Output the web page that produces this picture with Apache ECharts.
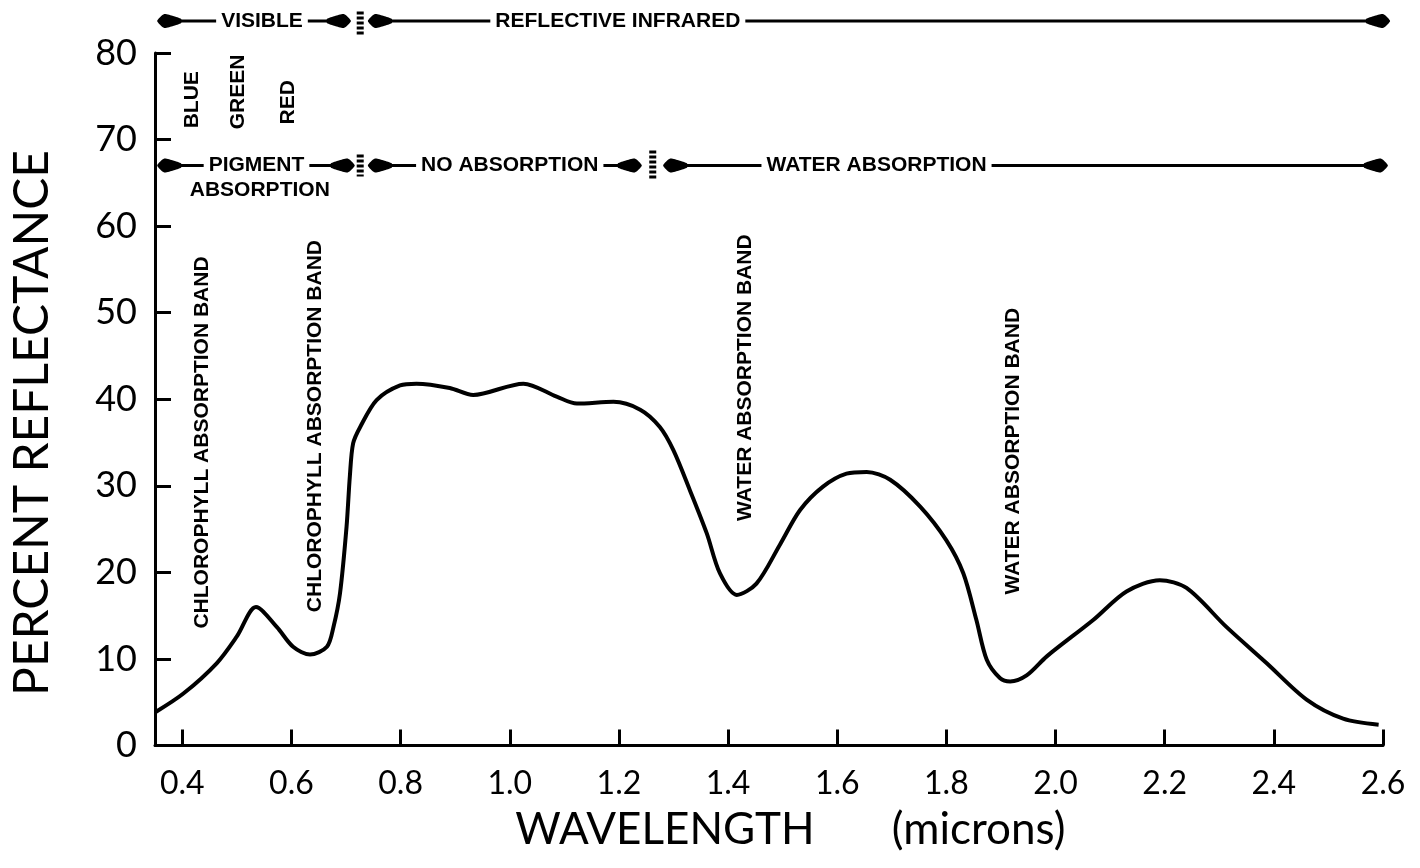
<!DOCTYPE html>
<html><head><meta charset="utf-8">
<script src="https://cdn.jsdelivr.net/npm/echarts@6/dist/echarts.min.js"></script>
<style>html,body{margin:0;padding:0;background:#fff}#c{width:1420px;height:868px}</style>
</head><body><div id="c"></div>
<script>
// Wavelength (microns) and percent reflectance
const wavelength = [0.352,0.402,0.463,0.500,0.535,0.573,0.603,0.634,0.665,0.677,0.689,0.701,0.707,0.713,0.726,0.756,0.799,0.829,0.890,0.933,1.025,1.086,1.123,1.190,1.239,1.275,1.300,1.330,1.361,1.385,1.416,1.452,1.495,1.532,1.574,1.617,1.654,1.697,1.752,1.800,1.831,1.855,1.874,1.898,1.917,1.947,1.984,2.069,2.130,2.191,2.240,2.313,2.387,2.460,2.527,2.592];
const reflectance = [3.9,6.0,9.5,12.6,16.0,13.7,11.4,10.5,11.4,13.7,17.6,25.3,31.1,34.9,36.8,39.9,41.6,41.8,41.3,40.5,41.8,40.3,39.5,39.7,38.8,36.8,34.1,29.5,24.5,19.9,17.4,18.7,23.2,27.2,29.9,31.4,31.6,30.7,27.6,23.7,19.9,14.5,9.9,7.8,7.4,8.1,10.3,14.5,17.8,19.1,18.2,13.7,9.5,5.3,3.1,2.4];
const xTicks = [0.4,0.6,0.8,1.0,1.2,1.4,1.6,1.8,2.0,2.2,2.4,2.6];
const yTicks = [0,10,20,30,40,50,60,70,80];

// Region arrows: [start λ, end λ, label, label centre λ, row reflectance]
const regionArrows = [
  [0.354, 0.709, 'VISIBLE', 0.546, 83.7],
  [0.740, 2.613, 'REFLECTIVE INFRARED', 1.198, 83.7],
  [0.354, 0.716, 'PIGMENT', 0.536, 67.0],
  [0.740, 1.242, 'NO ABSORPTION', 1.000, 67.0],
  [1.281, 2.609, 'WATER ABSORPTION', 1.672, 67.0]
];
const extraLabels = [['ABSORPTION', 0.542, 64.1]];
// Separators: [λ, row reflectance, half height px]
const separators = [[0.726, 83.4, 12], [0.726, 67.0, 11], [1.262, 67.0, 15]];
// Vertical labels: [text, λ centre, reflectance centre]
const verticalLabels = [
  ['BLUE', 0.418, 74.6],
  ['GREEN', 0.503, 75.5],
  ['RED', 0.594, 74.3],
  ['CHLOROPHYLL ABSORPTION BAND', 0.437, 35.0],
  ['CHLOROPHYLL ABSORPTION BAND', 0.644, 36.9],
  ['WATER ABSORPTION BAND', 1.432, 42.5],
  ['WATER ABSORPTION BAND', 1.923, 34.0]
];

const chart = echarts.init(document.getElementById('c'));
const titleFont = 'Lato, "Open Sans", sans-serif';
const annoFont = '"Liberation Sans", Arial, sans-serif';

chart.setOption({
  animation: false,
  backgroundColor: '#fff',
  grid: { left: 155, right: 37, top: 53, bottom: 122.5, containLabel: false },
  xAxis: {
    type: 'value', min: 0.35, max: 2.6,
    axisLine: { show: true, lineStyle: { color: '#000', width: 3 } },
    axisTick: { show: true, inside: true, length: 16, lineStyle: { color: '#000', width: 3 }, customValues: xTicks },
    axisLabel: { customValues: xTicks, formatter: v => v.toFixed(1), fontSize: 32, fontFamily: titleFont, color: '#000', margin: 22 },
    splitLine: { show: false }
  },
  yAxis: {
    type: 'value', min: 0, max: 80, interval: 10,
    axisLine: { show: true, lineStyle: { color: '#000', width: 3 } },
    axisTick: { show: true, inside: true, length: 16, lineStyle: { color: '#000', width: 3 } },
    axisLabel: { fontSize: 36, fontFamily: titleFont, color: '#000', margin: 18 },
    splitLine: { show: false }
  },
  series: [{
    type: 'line',
    data: wavelength.map((w, i) => [w, reflectance[i]]),
    smooth: 0.3,
    showSymbol: false,
    lineStyle: { color: '#000', width: 4 },
    clip: false
  }]
});

const px = (l, r) => chart.convertToPixel({ gridIndex: 0 }, [l, r]);
const g = [];
function arrowHead(x, y, d) {
  return { type: 'polygon', z: 10, shape: { points: [
    [x, y], [x - d * 7, y - 7], [x - d * 16, y - 5], [x - d * 24, y - 2], [x - d * 24, y + 2], [x - d * 16, y + 5], [x - d * 7, y + 7]
  ], smooth: 0.2 }, style: { fill: '#000' } };
}
regionArrows.forEach(([a, b, label, c, r]) => {
  const pa = px(a, r), pb = px(b, r), pc = px(c, r);
  g.push({ type: 'line', z: 9, shape: { x1: pa[0] + 10, y1: pa[1], x2: pb[0] - 10, y2: pb[1] }, style: { stroke: '#000', lineWidth: 3 } });
  g.push(arrowHead(pa[0], pa[1], -1));
  g.push(arrowHead(pb[0], pb[1], 1));
  g.push({ type: 'text', z: 11, x: pc[0], y: pc[1], style: { text: label, fill: '#000', font: 'bold 21px ' + annoFont, align: 'center', verticalAlign: 'middle', backgroundColor: '#fff', padding: [2, 5] } });
});
extraLabels.forEach(([t, l, r]) => {
  const p = px(l, r);
  g.push({ type: 'text', z: 11, x: p[0], y: p[1], style: { text: t, fill: '#000', font: 'bold 21px ' + annoFont, align: 'center', verticalAlign: 'middle' } });
});
separators.forEach(([l, r, h]) => {
  const p = px(l, r);
  g.push({ type: 'line', z: 10, shape: { x1: p[0], y1: p[1] - h, x2: p[0], y2: p[1] + h }, style: { stroke: '#000', lineWidth: 7, lineDash: [3, 2] } });
});
verticalLabels.forEach(([t, l, r]) => {
  const p = px(l, r);
  g.push({ type: 'text', z: 11, x: p[0], y: p[1], rotation: Math.PI / 2, style: { text: t, fill: '#000', font: 'bold 21px ' + annoFont, align: 'center', verticalAlign: 'middle' } });
});
// Axis titles
g.push({ type: 'text', x: 33, y: 423, rotation: Math.PI / 2, style: { text: 'PERCENT REFLECTANCE', fill: '#000', font: '48px ' + titleFont, align: 'center', verticalAlign: 'middle' } });
const pw = px(1.01, 0), pm = px(1.70, 0);
g.push({ type: 'text', x: pw[0], y: 830, style: { text: 'WAVELENGTH', fill: '#000', font: '44px ' + titleFont, align: 'left', verticalAlign: 'middle' } });
g.push({ type: 'text', x: pm[0], y: 830, style: { text: '(microns)', fill: '#000', font: '44px ' + titleFont, align: 'left', verticalAlign: 'middle' } });

chart.setOption({ graphic: g });
</script>
</body></html>
